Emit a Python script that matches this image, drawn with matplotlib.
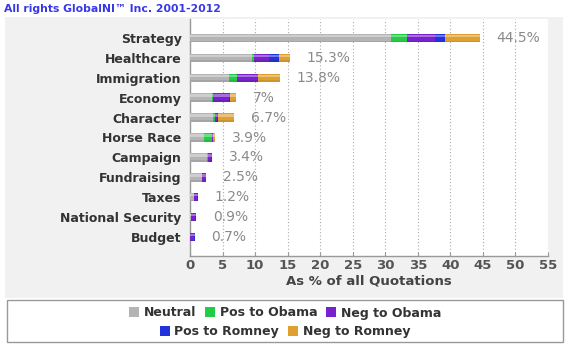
import matplotlib
matplotlib.use("Agg")
import matplotlib.pyplot as plt
from matplotlib.patches import Rectangle, Patch
import numpy as np

categories = ["Strategy", "Healthcare", "Immigration", "Economy", "Character",
              "Horse Race", "Campaign", "Fundraising", "Taxes",
              "National Security", "Budget"]
totals = [44.5, 15.3, 13.8, 7.0, 6.7, 3.9, 3.4, 2.5, 1.2, 0.9, 0.7]
total_labels = ["44.5%", "15.3%", "13.8%", "7%", "6.7%", "3.9%", "3.4%",
                "2.5%", "1.2%", "0.9%", "0.7%"]
neutral      = [30.9, 9.5, 6.0, 3.4, 3.6, 2.1, 2.6, 1.8, 0.6, 0.1, 0.0]
pos_obama    = [2.4, 0.3, 1.2, 0.2, 0.3, 1.3, 0.2, 0.0, 0.0, 0.0, 0.0]
neg_obama    = [4.3, 2.4, 3.3, 2.4, 0.2, 0.1, 0.5, 0.6, 0.5, 0.7, 0.6]
pos_romney   = [1.5, 1.5, 0.0, 0.2, 0.2, 0.0, 0.1, 0.1, 0.1, 0.1, 0.1]
neg_romney   = [5.4, 1.6, 3.3, 0.8, 2.4, 0.4, 0.0, 0.0, 0.0, 0.0, 0.0]
series_names = ["Neutral", "Pos to Obama", "Neg to Obama", "Pos to Romney", "Neg to Romney"]
series = [neutral, pos_obama, neg_obama, pos_romney, neg_romney]
colors = ["#b4b4b4", "#22cc44", "#7722cc", "#2233dd", "#e0a030"]
xticks = list(range(0, 56, 5))

W, H = 570, 348
fig = plt.figure(figsize=(W / 100, H / 100), dpi=100)
fig.patch.set_facecolor("white")

# gray panel
fig.patches.append(Rectangle((5 / W, 1 - 298 / H), 558 / W, 281 / H,
                             transform=fig.transFigure, facecolor="#f1f1f1",
                             edgecolor="none", zorder=-5))
# legend box
fig.patches.append(Rectangle((7 / W, 1 - 342 / H), 556 / W, 42 / H,
                             transform=fig.transFigure, facecolor="white",
                             edgecolor="#999999", linewidth=1.0, zorder=-5))

fig.text(4 / W, 1 - 9 / H, "All rights GlobalNI\u2122 Inc. 2001-2012",
         color="#3838e8", fontsize=7.8, fontweight="bold", va="center", ha="left")

ax = fig.add_axes([190 / W, 1 - 256 / H, (548 - 190) / W, (256 - 19) / H])
ax.set_facecolor("white")
y = np.arange(len(categories))
left = np.zeros(len(categories))
for name, vals, c in zip(series_names, series, colors):
    ax.barh(y, vals, left=left, height=0.42, color=c, label=name, zorder=3)
    left += np.array(vals)
# glossy highlight / shade on the bars
ax.barh(y - 0.1, totals, height=0.12, color="white", alpha=0.35, zorder=4)
ax.barh(y + 0.17, totals, height=0.08, color="black", alpha=0.08, zorder=4)

for yi, t, lab in zip(y, totals, total_labels):
    ax.annotate(lab, (t, yi), xytext=(17, 0), textcoords="offset pixels",
                va="center", ha="left", fontsize=10, color="#8a8a8a")

ax.set_xlim(0, 55)
ax.set_ylim(len(categories) - 0.05, -0.95)
ax.set_xticks(xticks)
ax.set_xticklabels([str(v) for v in xticks], fontsize=9.5, fontweight="bold", color="#555555")
ax.set_yticks(y)
ax.set_yticklabels(categories, fontsize=9, fontweight="bold", color="#333333")
ax.tick_params(axis="y", length=0, pad=6)
ax.tick_params(axis="x", length=3, direction="in", color="#999999", pad=2)
ax.grid(axis="x", linestyle=(0, (1, 2)), color="#aaaaaa", linewidth=0.8, zorder=1)
for s in ["top", "right"]:
    ax.spines[s].set_visible(False)
for s in ["left", "bottom"]:
    ax.spines[s].set_color("#999999")
    ax.spines[s].set_linewidth(1.0)
ax.set_xlabel("As % of all Quotations", fontsize=9.5, fontweight="bold",
              color="#444444", labelpad=2)

handles = [Patch(facecolor=c, edgecolor="none") for c in colors]
leg1 = fig.legend(handles[:3], series_names[:3], loc="center",
                  bbox_to_anchor=(285 / W, 1 - 313 / H), ncol=3, frameon=False,
                  prop={"size": 9, "weight": "bold"}, handlelength=0.8,
                  handleheight=0.8, handletextpad=0.4, columnspacing=0.7,
                  borderpad=0)
for t in leg1.get_texts():
    t.set_color("#333333")
leg2 = fig.legend(handles[3:], series_names[3:], loc="center",
                  bbox_to_anchor=(285 / W, 1 - 332 / H), ncol=2, frameon=False,
                  prop={"size": 9, "weight": "bold"}, handlelength=0.8,
                  handleheight=0.8, handletextpad=0.4, columnspacing=0.7,
                  borderpad=0)
for t in leg2.get_texts():
    t.set_color("#333333")

fig.savefig("out.png", dpi=100, facecolor=fig.get_facecolor())
